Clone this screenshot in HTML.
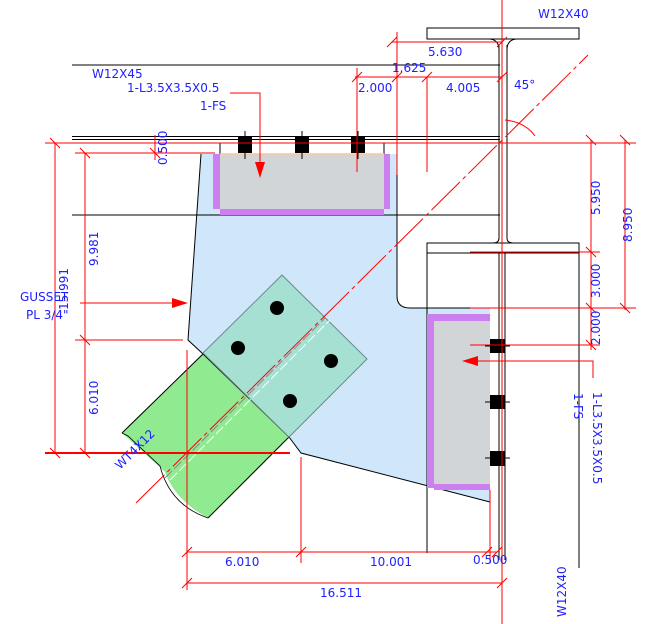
<!DOCTYPE html>
<html><head><meta charset="utf-8"><style>
html,body{margin:0;padding:0;background:#fff;}
svg{display:block;}
text{font-family:"DejaVu Sans","Liberation Sans",sans-serif;font-size:12px;fill:#2020ff;}
</style></head><body>
<svg width="651" height="624" viewBox="0 0 651 624" xmlns="http://www.w3.org/2000/svg">
<path d="M201,154 L397,154 L397,296 Q397,308 410,308 L490,308 L490,502 L301,453 L289,437 L203,354 L188,340 Z" fill="#d0e6fb" stroke="none"/>
<path d="M201,154 L188,340 L203,354" fill="none" stroke="#000" stroke-width="1"/>
<path d="M289,437 L301,453 L490,502" fill="none" stroke="#000" stroke-width="1"/>
<path d="M122,433 L203,354 L289,437 L208,518 Q175,500 165,472 Z" fill="#90ea90"/>
<path d="M122,433 L203,354 L289,437 L208,518" fill="none" stroke="#000" stroke-width="1"/>
<path d="M122,433 L128,436 L160,466 Q170,505 208,518" fill="none" stroke="#000" stroke-width="0.8"/>
<path d="M282,275 L367,359 L289,437 L203,353 Z" fill="#a6e0d3" stroke="#6a8a8a" stroke-width="1"/>
<path d="M165,478 L325,318" stroke="#888" stroke-width="1" stroke-dasharray="10,3"/>
<path d="M170,480 L330,320" stroke="#fff" stroke-width="1" stroke-dasharray="10,3"/>
<g fill="#000"><circle cx="277" cy="308" r="7"/><circle cx="238" cy="348" r="7"/><circle cx="331" cy="361" r="7"/><circle cx="290" cy="401" r="7"/></g>
<g stroke="#000" stroke-width="1" fill="none">
<line x1="72" y1="65" x2="500" y2="65"/>
<line x1="72" y1="136.5" x2="500" y2="136.5"/>
<line x1="72" y1="139.5" x2="500" y2="139.5"/>
<line x1="72" y1="215" x2="500" y2="215"/>
<line x1="220" y1="143" x2="220" y2="154"/>
<line x1="384" y1="143" x2="384" y2="154"/>
<path d="M397,154 L397,296 Q397,308 410,308 L500,308"/>
<rect x="427" y="28" width="152" height="11"/>
<path d="M499,45 L499,238 Q499,243 493,243 M507,45 L507,238 Q507,243 513,243"/>
<path d="M490,39 Q499,40 499,50 M516,39 Q507,40 507,50"/>
<rect x="427" y="243" width="152" height="10"/>
<line x1="427" y1="253" x2="427" y2="553"/>
<line x1="579" y1="253" x2="579" y2="568"/>
<line x1="505" y1="253" x2="505" y2="560"/>
<line x1="499" y1="253" x2="499" y2="560"/>
</g>
<rect x="220" y="154" width="164" height="55" fill="#d2d5d8"/>
<rect x="213" y="154" width="7" height="55" fill="#cc80f0"/>
<rect x="384" y="154" width="6" height="55" fill="#cc80f0"/>
<rect x="220" y="209" width="164" height="6" fill="#cc80f0"/>
<line x1="220" y1="154" x2="384" y2="154" stroke="#f5c8a0" stroke-width="1.5"/>
<rect x="434" y="321" width="56" height="163" fill="#d2d5d8"/>
<rect x="427" y="314" width="7" height="174" fill="#cc80f0"/>
<rect x="434" y="314" width="56" height="7" fill="#cc80f0"/>
<rect x="434" y="484" width="56" height="6" fill="#cc80f0"/>
<g fill="#000"><rect x="238" y="137" width="14" height="16"/><rect x="295" y="137" width="14" height="16"/><rect x="351" y="137" width="14" height="16"/>
<rect x="490" y="339" width="15" height="14"/><rect x="490" y="395" width="15" height="14"/><rect x="490" y="451" width="15" height="15"/></g>
<g stroke="#000"><line x1="245" y1="131" x2="245" y2="159"/><line x1="302" y1="131" x2="302" y2="159"/><line x1="358" y1="131" x2="358" y2="159"/>
<line x1="485" y1="346" x2="510" y2="346"/><line x1="485" y1="402" x2="510" y2="402"/><line x1="485" y1="458" x2="510" y2="458"/></g>
<g stroke="#f00" stroke-width="1" fill="none">
<line x1="502" y1="0" x2="502" y2="624"/>
<line x1="136" y1="503" x2="588" y2="55" stroke-dasharray="40,4,4,4"/>
<line x1="45" y1="143" x2="636" y2="143"/>
<line x1="75" y1="153" x2="215" y2="153"/>
<line x1="155" y1="135" x2="155" y2="160"/>
<line x1="392" y1="42" x2="502" y2="42"/>
<line x1="397" y1="32" x2="397" y2="175"/>
<line x1="355" y1="77" x2="502" y2="77"/>
<line x1="357" y1="68" x2="357" y2="172"/>
<line x1="427" y1="77" x2="427" y2="172"/>
<path d="M505,120 Q525,122 535,136"/>
<line x1="55" y1="143" x2="55" y2="453"/>
<line x1="85" y1="153" x2="85" y2="453"/>
<line x1="75" y1="340" x2="183" y2="340"/>
<line x1="45" y1="453" x2="290" y2="453" stroke-width="2"/>
<line x1="80" y1="303" x2="178" y2="303"/>
<line x1="187" y1="350" x2="187" y2="590"/>
<line x1="591" y1="140" x2="591" y2="350"/>
<line x1="625" y1="140" x2="625" y2="310"/>
<line x1="470" y1="252" x2="600" y2="252"/>
<line x1="470" y1="308" x2="636" y2="308"/>
<line x1="470" y1="345" x2="600" y2="345"/>
<path d="M593,378 L593,361 L470,361"/>
<path d="M230,93 L260,93 L260,165"/>
<line x1="301" y1="457" x2="301" y2="563"/>
<line x1="490" y1="490" x2="490" y2="563"/>
<line x1="187" y1="552" x2="497" y2="552"/>
<line x1="187" y1="583" x2="502" y2="583"/>
<path d="M387,47 L397,37 M497,47 L507,37 M352,82 L362,72 M392,82 L402,72 M422,82 L432,72 M497,82 L507,72
M50,138 L60,148 M80,148 L90,158 M80,335 L90,345 M50,448 L60,458 M80,448 L90,458 M150,148 L160,158
M586,135 L596,145 M620,135 L630,145 M586,247 L596,257 M586,303 L596,313 M620,303 L630,313 M586,340 L596,350
M182,557 L192,547 M296,557 L306,547 M482,557 L492,547 M492,557 L502,547 M182,588 L192,578 M497,588 L507,578"/>
</g>
<g fill="#f00"><path d="M188,303 L172,298 L172,308 Z"/><path d="M260,178 L255,162 L265,162 Z"/><path d="M462,361 L478,356 L478,366 Z"/></g>
<text x="538" y="18">W12X40</text>
<text x="428" y="56">5.630</text>
<text x="392" y="72">1.625</text>
<text x="92" y="78">W12X45</text>
<text x="127" y="92">1-L3.5X3.5X0.5</text>
<text x="358" y="92">2.000</text>
<text x="446" y="92">4.005</text>
<text x="514" y="89">45°</text>
<text x="200" y="110">1-FS</text>
<text x="20" y="301">GUSSET</text>
<text x="26" y="319">PL 3/4"</text>
<text x="473" y="564">0.500</text>
<text x="225" y="566">6.010</text>
<text x="370" y="566">10.001</text>
<text x="320" y="597">16.511</text>
<text transform="translate(167,165) rotate(-90)">0.500</text>
<text transform="translate(98,266) rotate(-90)">9.981</text>
<text transform="translate(68,310) rotate(-90)">15.991</text>
<text transform="translate(98,415) rotate(-90)">6.010</text>
<text transform="translate(600,215) rotate(-90)">5.950</text>
<text transform="translate(632,242) rotate(-90)">8.950</text>
<text transform="translate(600,298) rotate(-90)">3.000</text>
<text transform="translate(600,345) rotate(-90)">2.000</text>
<text transform="translate(120,470) rotate(-45)">WT4X12</text>
<text transform="translate(593,392) rotate(90)">1-L3.5X3.5X0.5</text>
<text transform="translate(574,393) rotate(90)">1-FS</text>
<text transform="translate(566,617) rotate(-90)">W12X40</text>
</svg>
</body></html>
